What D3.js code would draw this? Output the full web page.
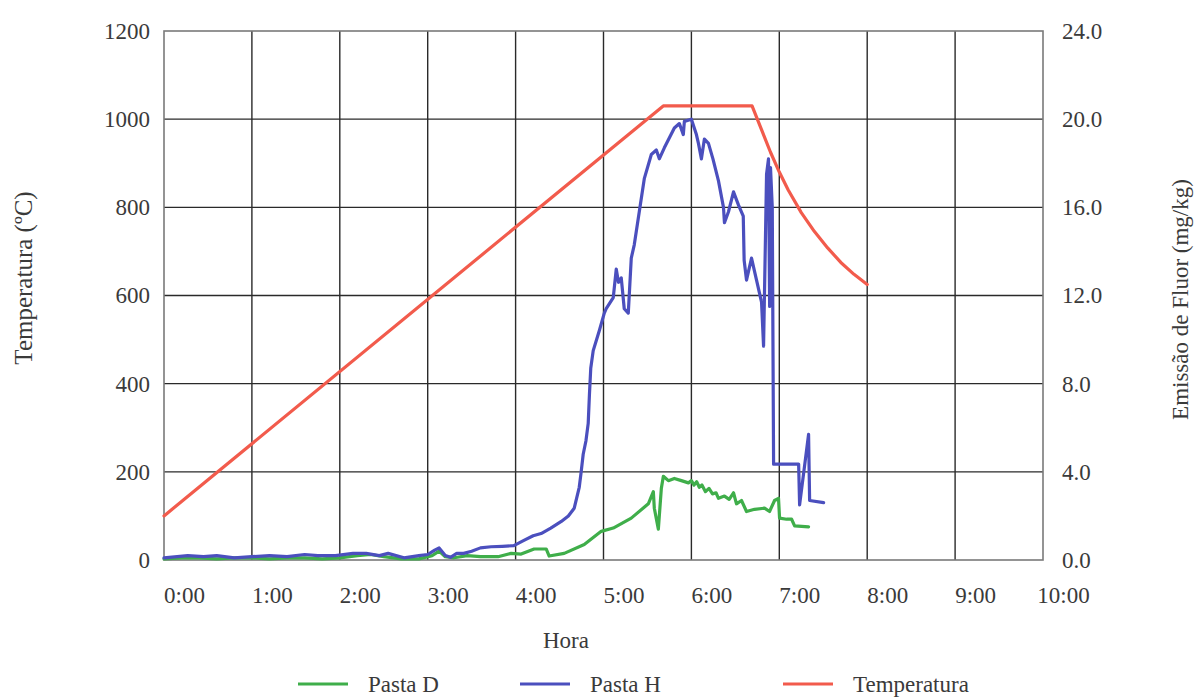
<!DOCTYPE html>
<html>
<head>
<meta charset="utf-8">
<script src="https://cdn.jsdelivr.net/npm/d3@7"></script>
<style>
  html, body { margin: 0; padding: 0; background: #ffffff; }
  svg { display: block; }
  text { font-family: "Liberation Serif", "DejaVu Serif", serif; fill: #3a3a3a; }
</style>
</head>
<body>
<svg id="chart" width="1194" height="697"></svg>
<script>
// Hour ticks (hours since start) and their labels
const hourTicks = [0, 1, 2, 3, 4, 5, 6, 7, 8, 9, 10];
const hourLabels = ["0:00", "1:00", "2:00", "3:00", "4:00", "5:00", "6:00", "7:00", "8:00", "9:00", "10:00"];
const tempTicks = [0, 200, 400, 600, 800, 1000, 1200];
const emisTicks = [0, 4, 8, 12, 16, 20, 24];

// Furnace temperature (ºC): heating ramp, plateau, cooling
const tempHours = [0, 5.68, 6.69, 6.8, 6.9, 7.0, 7.1, 7.25, 7.4, 7.55, 7.7, 7.85, 8.0];
const tempValues = [100, 1030, 1030, 975, 925, 880, 840, 788, 745, 708, 675, 648, 625];

// Fluorine emission, Pasta H (mg/kg)
const pastaHHours = [0, 0.15, 0.27, 0.45, 0.6, 0.8, 1.0, 1.2, 1.4, 1.6, 1.75, 1.95, 2.15, 2.3, 2.45, 2.55, 2.73, 2.9, 3.0, 3.08, 3.13, 3.2, 3.26, 3.33, 3.41, 3.5, 3.6, 3.72, 3.85, 3.98, 4.1, 4.2, 4.29, 4.4, 4.52, 4.6, 4.667, 4.724, 4.746, 4.769, 4.8, 4.826, 4.84, 4.855, 4.883, 4.952, 5.009, 5.031, 5.111, 5.145, 5.17, 5.202, 5.236, 5.282, 5.316, 5.35, 5.407, 5.464, 5.544, 5.601, 5.635, 5.692, 5.806, 5.863, 5.908, 5.92, 6.0, 6.057, 6.08, 6.114, 6.148, 6.194, 6.245, 6.308, 6.365, 6.376, 6.422, 6.479, 6.536, 6.59, 6.6, 6.627, 6.684, 6.741, 6.798, 6.821, 6.855, 6.877, 6.89, 6.9, 6.92, 6.935, 7.22, 7.231, 7.333, 7.345, 7.504];
const pastaHValues = [0.1, 0.15, 0.2, 0.15, 0.2, 0.1, 0.15, 0.2, 0.15, 0.25, 0.2, 0.2, 0.3, 0.3, 0.2, 0.3, 0.1, 0.2, 0.25, 0.45, 0.55, 0.2, 0.12, 0.3, 0.3, 0.4, 0.55, 0.6, 0.62, 0.65, 0.9, 1.1, 1.2, 1.45, 1.75, 2.0, 2.35, 3.3, 4.0, 4.8, 5.4, 6.2, 7.5, 8.7, 9.5, 10.4, 11.2, 11.4, 11.9, 13.2, 12.6, 12.8, 11.4, 11.2, 13.7, 14.3, 15.8, 17.3, 18.4, 18.6, 18.2, 18.7, 19.6, 19.8, 19.3, 19.9, 20.0, 19.3, 18.9, 18.2, 19.1, 18.9, 18.2, 17.2, 16.0, 15.3, 15.8, 16.7, 16.1, 15.6, 13.6, 12.7, 13.7, 12.7, 11.7, 9.7, 17.5, 18.2, 11.5, 17.8, 16.0, 4.35, 4.35, 2.5, 5.7, 2.7, 2.6];

// Fluorine emission, Pasta D (mg/kg)
const pastaDHours = [0, 0.2, 0.4, 0.6, 0.8, 1.0, 1.2, 1.4, 1.6, 1.8, 2.0, 2.2, 2.35, 2.5, 2.7, 2.9, 3.05, 3.13, 3.2, 3.3, 3.45, 3.6, 3.8, 3.95, 4.063, 4.211, 4.348, 4.382, 4.553, 4.781, 4.974, 5.111, 5.316, 5.51, 5.567, 5.578, 5.624, 5.658, 5.681, 5.738, 5.806, 5.886, 5.966, 6.0, 6.03, 6.06, 6.09, 6.12, 6.16, 6.2, 6.24, 6.28, 6.308, 6.376, 6.43, 6.479, 6.513, 6.57, 6.627, 6.718, 6.832, 6.889, 6.946, 6.991, 7.003, 7.083, 7.14, 7.174, 7.333];
const pastaDValues = [0.05, 0.1, 0.1, 0.05, 0.1, 0.1, 0.05, 0.1, 0.1, 0.05, 0.1, 0.2, 0.25, 0.15, 0.05, 0.05, 0.2, 0.4, 0.15, 0.1, 0.2, 0.15, 0.15, 0.3, 0.27, 0.5, 0.5, 0.18, 0.3, 0.7, 1.3, 1.45, 1.9, 2.55, 3.1, 2.35, 1.4, 3.25, 3.8, 3.6, 3.7, 3.6, 3.5, 3.6, 3.4, 3.55, 3.3, 3.4, 3.1, 3.25, 3.0, 3.05, 2.8, 2.9, 2.75, 3.05, 2.55, 2.7, 2.2, 2.3, 2.35, 2.2, 2.7, 2.8, 1.9, 1.85, 1.85, 1.55, 1.5];

const margin = { left: 164, right: 1043, top: 31, bottom: 560 };
const svg = d3.select("#chart");

const x = d3.scaleLinear().domain([0, 10]).range([margin.left, margin.right]);
const yTemp = d3.scaleLinear().domain([0, 1200]).range([margin.bottom, margin.top]);
const yEmis = d3.scaleLinear().domain([0, 24]).range([margin.bottom, margin.top]);

const fontSize = 23;

// grid
const grid = svg.append("g");
grid.selectAll("line.v").data(hourTicks.slice(1, -1)).join("line")
  .attr("x1", d => x(d)).attr("x2", d => x(d))
  .attr("y1", margin.top).attr("y2", margin.bottom)
  .attr("stroke", "#2a2a2a").attr("stroke-width", 1.4);
grid.selectAll("line.h").data(tempTicks.slice(1, -1)).join("line")
  .attr("x1", margin.left).attr("x2", margin.right)
  .attr("y1", d => yTemp(d)).attr("y2", d => yTemp(d))
  .attr("stroke", "#2a2a2a").attr("stroke-width", 1.4);
svg.append("rect")
  .attr("x", margin.left).attr("y", margin.top)
  .attr("width", margin.right - margin.left).attr("height", margin.bottom - margin.top)
  .attr("fill", "none").attr("stroke", "#7a7a7a").attr("stroke-width", 1.6);

// axes (labels only; the frame draws the axis lines)
const leftAxis = svg.append("g").attr("transform", `translate(${margin.left},0)`)
  .call(d3.axisLeft(yTemp).tickValues(tempTicks).tickSize(0).tickPadding(14).tickFormat(d3.format("d")));
const rightAxis = svg.append("g").attr("transform", `translate(${margin.right},0)`)
  .call(d3.axisRight(yEmis).tickValues(emisTicks).tickSize(0).tickPadding(19).tickFormat(d3.format(".1f")));
const bottomAxis = svg.append("g").attr("transform", `translate(0,${margin.bottom})`)
  .call(d3.axisBottom(x).tickValues(hourTicks).tickSize(0).tickPadding(27).tickFormat((d, i) => hourLabels[i]));
[leftAxis, rightAxis, bottomAxis].forEach(a => {
  a.select(".domain").remove();
  a.selectAll("text").style("font-family", '"Liberation Serif", serif').style("font-size", fontSize + "px").attr("fill", "#3a3a3a");
});
bottomAxis.selectAll("text").attr("dx", "20");

// axis titles
svg.append("text").attr("transform", `translate(32,278) rotate(-90)`)
  .attr("text-anchor", "middle").style("font-size", "25px").text("Temperatura (ºC)");
svg.append("text").attr("transform", `translate(1188,${(margin.top + margin.bottom) / 2 + 4}) rotate(-90)`)
  .attr("text-anchor", "middle").style("font-size", fontSize + "px").text("Emissão de Fluor (mg/kg)");
svg.append("text").attr("x", 566).attr("y", 648)
  .attr("text-anchor", "middle").style("font-size", fontSize + "px").text("Hora");

// series
const series = [
  { name: "Pasta D", color: "#3fae4a", hours: pastaDHours, values: pastaDValues, y: yEmis },
  { name: "Pasta H", color: "#4b4fbe", hours: pastaHHours, values: pastaHValues, y: yEmis },
  { name: "Temperatura", color: "#f25b4c", hours: tempHours, values: tempValues, y: yTemp }
];
series.forEach(s => {
  const pts = s.hours.map((h, i) => [h, s.values[i]]);
  const line = d3.line().x(d => x(d[0])).y(d => s.y(d[1]));
  svg.append("path").datum(pts)
    .attr("d", line)
    .attr("fill", "none").attr("stroke", s.color)
    .attr("stroke-width", 3.2).attr("stroke-linejoin", "round").attr("stroke-linecap", "round");
});

// legend
const legendX = [298, 520, 783];
const legend = svg.append("g");
series.forEach((s, i) => {
  const g = legend.append("g").attr("transform", `translate(${legendX[i]},684)`);
  g.append("line").attr("x1", 0).attr("x2", 50).attr("y1", 0).attr("y2", 0)
    .attr("stroke", s.color).attr("stroke-width", 3.2);
  g.append("text").attr("x", 70).attr("y", 8).style("font-size", fontSize + "px").text(s.name);
});
</script>
</body>
</html>
